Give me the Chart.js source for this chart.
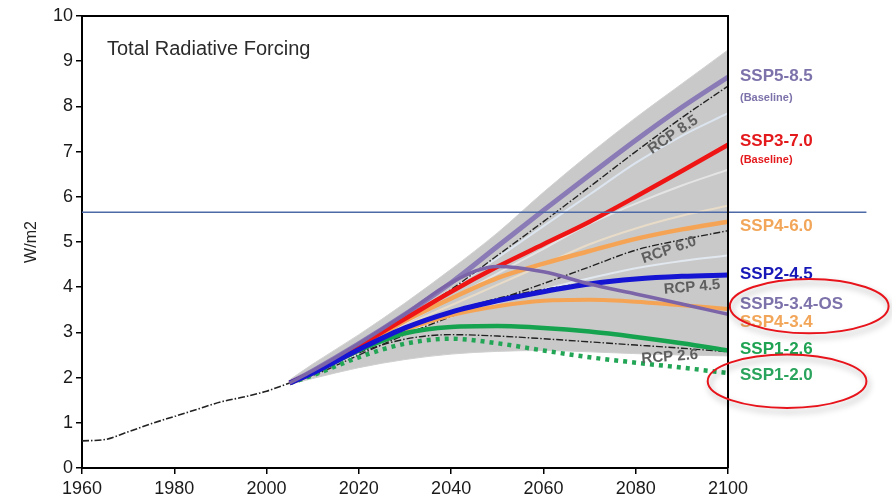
<!DOCTYPE html>
<html>
<head>
<meta charset="utf-8">
<script src="https://cdn.jsdelivr.net/npm/chart.js@4/dist/chart.umd.min.js"></script>
<style>
  body { margin: 0; background: #fff; }
  canvas { display: block; }
</style>
</head>
<body>
<canvas id="forcingChart" width="892" height="503"></canvas>
<script>
// ---- data (W/m2) ----
const histYears = [1960, 1965, 1970, 1975, 1980, 1985, 1990, 1995, 2000, 2005];
const histValues = [0.6, 0.63, 0.8, 0.98, 1.14, 1.3, 1.46, 1.57, 1.7, 1.88];

const projYears = [2005, 2010, 2020, 2030, 2040, 2050, 2060, 2070, 2080, 2090, 2100];

const bandUpper = [1.95, 2.3, 2.95, 3.65, 4.4, 5.2, 6.1, 6.95, 7.75, 8.5, 9.25];
const bandLower = [1.85, 1.98, 2.22, 2.4, 2.52, 2.58, 2.6, 2.57, 2.53, 2.5, 2.48];

// faint individual scenario lines inside the grey band
const faintA = [1.9, 2.15, 2.72, 3.32, 3.95, 4.65, 5.35, 6.05, 6.75, 7.35, 7.85];
const faintB = [1.9, 2.12, 2.65, 3.2, 3.75, 4.3, 4.85, 5.4, 5.85, 6.25, 6.6];
const faintC = [1.9, 2.1, 2.62, 3.15, 3.6, 4.05, 4.5, 4.95, 5.3, 5.58, 5.8];
const faintD = [1.9, 2.08, 2.55, 3.0, 3.35, 3.65, 3.95, 4.2, 4.42, 4.58, 4.7];

const ssp585 = [1.88, 2.15, 2.75, 3.4, 4.1, 4.9, 5.7, 6.48, 7.25, 7.98, 8.65];
const ssp370 = [1.88, 2.12, 2.7, 3.3, 3.9, 4.45, 4.95, 5.45, 6.0, 6.57, 7.15];
const ssp460 = [1.88, 2.1, 2.65, 3.25, 3.75, 4.2, 4.52, 4.8, 5.07, 5.28, 5.45];
const ssp245 = [1.88, 2.1, 2.62, 3.1, 3.45, 3.7, 3.9, 4.07, 4.18, 4.24, 4.27];
const ssp534os = [1.88, 2.15, 2.75, 3.4, 4.1, 4.46, 4.34, 4.07, 3.85, 3.63, 3.4];
const ssp434 = [1.88, 2.1, 2.6, 3.05, 3.38, 3.58, 3.7, 3.72, 3.68, 3.6, 3.52];
const ssp126 = [1.88, 2.1, 2.6, 2.98, 3.12, 3.14, 3.1, 3.02, 2.9, 2.76, 2.6];
const ssp119 = [1.88, 2.05, 2.45, 2.75, 2.86, 2.76, 2.6, 2.45, 2.33, 2.22, 2.1];

const rcp85 = [1.9, 2.12, 2.7, 3.3, 3.95, 4.7, 5.45, 6.22, 7.0, 7.75, 8.45];
const rcp60 = [1.9, 2.05, 2.5, 2.95, 3.35, 3.72, 4.08, 4.45, 4.82, 5.05, 5.25];
const rcp45 = [1.9, 2.08, 2.6, 3.05, 3.45, 3.75, 3.95, 4.1, 4.2, 4.25, 4.27];
const rcp26 = [1.9, 2.08, 2.55, 2.85, 2.95, 2.92, 2.86, 2.79, 2.72, 2.65, 2.57];

const refLineYears = [1960, 2130];
const refLineValue = 5.66;

const sspLabels = ['SSP5-8.5', '(Baseline)', 'SSP3-7.0', '(Baseline)', 'SSP4-6.0', 'SSP2-4.5', 'SSP5-3.4-OS', 'SSP4-3.4', 'SSP1-2.6', 'SSP1-2.0'];
const sspLabelValues = [8.67, 8.19, 7.23, 6.81, 5.35, 4.29, 3.63, 3.23, 2.63, 2.04];
const sspLabelColors = ['#7d72aa', '#7d72aa', '#e3191c', '#e3191c', '#f2a65a', '#1818b8', '#7d72aa', '#f2a65a', '#1fa353', '#2aa35c'];
const sspLabelSmall = [false, true, false, true, false, false, false, false, false, false];

const rcpLabels = ['RCP 8.5', 'RCP 6.0', 'RCP 4.5', 'RCP 2.6'];
const rcpLabelYears = [2088.1, 2087.2, 2092.2, 2087.4];
const rcpLabelValues = [7.37, 4.82, 4.0, 2.46];
const rcpLabelAngles = [-34, -19, -5, -4];

// red circled annotations (centre year, centre value, half width in years, half height in W/m2)
const ringYears = [2117.6, 2112.8];
const ringValues = [3.58, 1.92];
const ringHalfYears = [17.2, 17.2];
const ringHalfValues = [0.6, 0.59];

const FONT = 'Arial, "Liberation Sans", sans-serif';

const pts = (xs, ys) => xs.map((x, i) => ({ x: x, y: ys[i] }));

function line(data, color, width, extra) {
    return Object.assign({
        data: data,
        borderColor: color,
        borderWidth: width,
        pointRadius: 0,
        fill: false,
        cubicInterpolationMode: 'monotone'
    }, extra || {});
}

const dashDot = [7, 2, 1.5, 2];

const datasets = [
    // grey band (upper filled down to lower)
    line(pts(projYears, bandUpper), '#d2d2d2', 1, { fill: '+1', backgroundColor: '#c9c9c9', order: 100 }),
    line(pts(projYears, bandLower), '#cfcfcf', 1, { order: 99 }),
    line(pts(projYears, faintA), '#dce5ef', 2, { order: 90 }),
    line(pts(projYears, faintB), '#e4e4e4', 2, { order: 90 }),
    line(pts(projYears, faintC), '#e8dcc8', 2, { order: 90 }),
    line(pts(projYears, faintD), '#e2e8ef', 2, { order: 90 }),
    // RCP dash-dot lines
    line(pts(projYears, rcp85), '#222', 1.4, { borderDash: dashDot, order: 40 }),
    line(pts(projYears, rcp60), '#222', 1.4, { borderDash: dashDot, order: 40 }),
    line(pts(projYears, rcp45), '#222', 1.4, { borderDash: dashDot, order: 40 }),
    line(pts(projYears, rcp26), '#222', 1.4, { borderDash: dashDot, order: 40 }),
    line(pts(histYears, histValues), '#222', 1.6, { borderDash: dashDot, order: 40 }),
    // SSP lines
    line(pts(projYears, ssp585), '#8a7bb6', 5, { order: 10 }),
    line(pts(projYears, ssp370), '#f01515', 4.5, { order: 9 }),
    line(pts(projYears, ssp460), '#f5a455', 4.5, { order: 12 }),
    line(pts(projYears, ssp434), '#f5a455', 4, { order: 12 }),
    line(pts(projYears, ssp245), '#1414d2', 5, { order: 8 }),
    line(pts(projYears, ssp534os), '#7b64a8', 3.5, { order: 7 }),
    line(pts(projYears, ssp126), '#16a34f', 4.5, { order: 11 }),
    line(pts(projYears, ssp119), '#22a656', 4.5, { borderDash: [4, 5], order: 11 }),
    // horizontal reference line
    line(pts(refLineYears, [refLineValue, refLineValue]), '#4d6aa6', 1.5, { clip: false, cubicInterpolationMode: 'default', order: 1 })
];

const decorPlugin = {
    id: 'decor',
    afterDatasetsDraw(chart) {
        const { ctx, chartArea, scales } = chart;
        const xs = scales.x, ys = scales.y;
        ctx.save();

        // top and right frame lines
        ctx.strokeStyle = '#000';
        ctx.lineWidth = 2;
        ctx.beginPath();
        ctx.moveTo(chartArea.left, chartArea.top);
        ctx.lineTo(chartArea.right, chartArea.top);
        ctx.lineTo(chartArea.right, chartArea.bottom);
        ctx.stroke();

        // panel title
        ctx.fillStyle = '#2b2b2b';
        ctx.font = '20px ' + FONT;
        ctx.textBaseline = 'middle';
        ctx.textAlign = 'left';
        ctx.fillText('Total Radiative Forcing', chartArea.left + 25, chartArea.top + 33);

        // RCP labels
        ctx.fillStyle = '#5e5e5e';
        ctx.font = 'bold 15px ' + FONT;
        ctx.textAlign = 'center';
        rcpLabels.forEach((t, i) => {
            ctx.save();
            ctx.translate(xs.getPixelForValue(rcpLabelYears[i]), ys.getPixelForValue(rcpLabelValues[i]));
            ctx.rotate(rcpLabelAngles[i] * Math.PI / 180);
            ctx.fillText(t, 0, 0);
            ctx.restore();
        });

        // scenario labels at the right
        ctx.textAlign = 'left';
        sspLabels.forEach((t, i) => {
            ctx.fillStyle = sspLabelColors[i];
            ctx.font = (sspLabelSmall[i] ? 'bold 11px ' : 'bold 17px ') + FONT;
            ctx.fillText(t, chartArea.right + 12, ys.getPixelForValue(sspLabelValues[i]));
        });

        // red rings
        ctx.strokeStyle = '#e8141c';
        ctx.lineWidth = 2;
        ctx.shadowColor = 'rgba(0,0,0,0.35)';
        ctx.shadowBlur = 6;
        ctx.shadowOffsetX = 2;
        ctx.shadowOffsetY = 4;
        ringYears.forEach((yr, i) => {
            const cx = xs.getPixelForValue(yr);
            const cy = ys.getPixelForValue(ringValues[i]);
            const rx = Math.abs(xs.getPixelForValue(yr + ringHalfYears[i]) - cx);
            const ry = Math.abs(ys.getPixelForValue(ringValues[i] + ringHalfValues[i]) - cy);
            ctx.beginPath();
            ctx.ellipse(cx, cy, rx, ry, 0, 0, Math.PI * 2);
            ctx.stroke();
        });
        ctx.restore();
    }
};

new Chart(document.getElementById('forcingChart'), {
    type: 'line',
    data: { datasets: datasets },
    options: {
        responsive: false,
        animation: false,
        events: [],
        layout: { padding: { top: 16, right: 164, left: 0, bottom: 0 } },
        plugins: {
            legend: { display: false },
            tooltip: { enabled: false }
        },
        scales: {
            x: {
                type: 'linear',
                min: 1960,
                max: 2100,
                ticks: {
                    stepSize: 20,
                    color: '#1a1a1a',
                    font: { family: FONT, size: 18 },
                    padding: 4,
                    callback: v => String(v)
                },
                grid: { drawOnChartArea: false, tickLength: 6, color: '#000', lineWidth: 1.5 },
                border: { color: '#000', width: 2 },
                afterFit: s => { s.height = 35; }
            },
            y: {
                min: 0,
                max: 10,
                ticks: {
                    stepSize: 1,
                    color: '#1a1a1a',
                    font: { family: FONT, size: 18 },
                    padding: 3
                },
                grid: { drawOnChartArea: false, tickLength: 6, color: '#000', lineWidth: 1.5 },
                border: { color: '#000', width: 2 },
                title: {
                    display: true,
                    text: 'W/m2',
                    color: '#222',
                    font: { family: FONT, size: 16 },
                    padding: { top: 22, bottom: 0 }
                },
                afterFit: s => { s.width = 82; }
            }
        }
    },
    plugins: [decorPlugin]
});
</script>
</body>
</html>
